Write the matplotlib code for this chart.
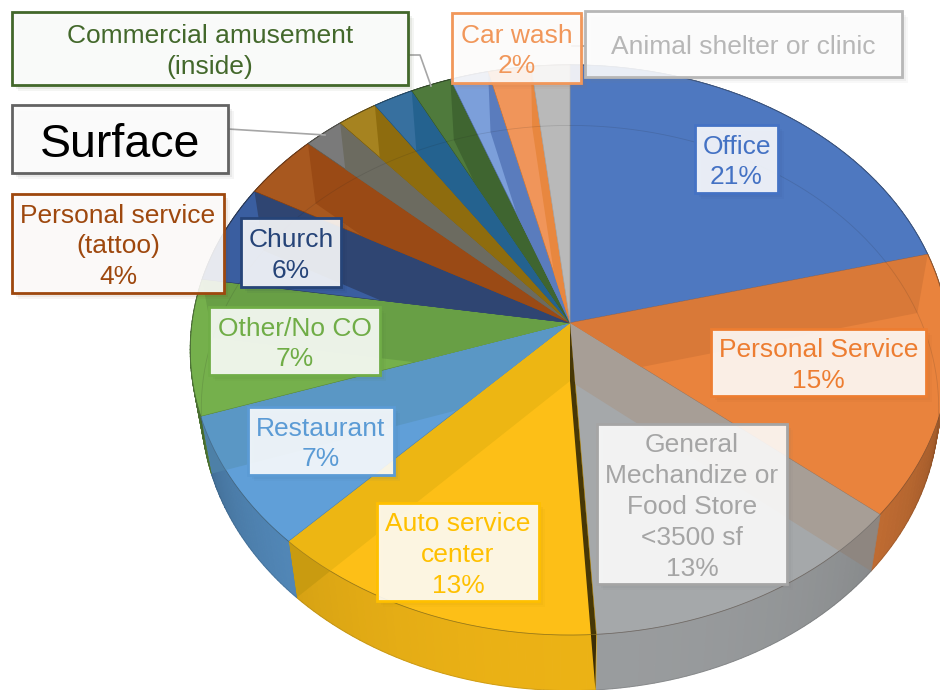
import numpy as np
import matplotlib
matplotlib.use("Agg")
import matplotlib.pyplot as plt
from matplotlib.colors import to_rgb
from matplotlib.patches import Polygon, Rectangle

plt.rcParams['font.family'] = ['Liberation Sans', 'DejaVu Sans']

# Datos (porcentaje de cada sector, sentido horario desde las 12)
sectores = ['Office', 'Personal Service', 'General Mechandize', 'Auto service center',
            'Restaurant', 'Other/No CO', 'Church', 'Personal service (tattoo)',
            'Surface', 'Sector 10', 'Sector 11', 'Commercial amusement',
            'Sector 13', 'Car wash', 'Animal shelter or clinic']
valores = [21.0, 15.0, 13.0, 13.2, 7.6, 7.7, 5.6, 3.7, 1.9, 1.9, 1.9, 1.9, 1.8, 2.0, 1.8]

colores = ['#4E78C0', '#E9833D', '#A5A8AA', '#FDBF17', '#609FD8', '#75B04C', '#3A5EA0', '#A8581F',
           '#7A7A7A', '#A68320', '#37709F', '#4F7A3C', '#7C9FDA', '#F0955A', '#B9B9B9']
bandas = ['#4E78C0', '#D97938', '#A79E96', '#EDB613', '#5A97C5', '#689F45', '#2F4572', '#9A4A15',
          '#6C6B60', '#8E6C0E', '#24628F', '#3F6530', '#5A7CBD', '#E8873F', '#B9B9B9']

# Etiquetas: texto, color, caja (x0, y0, x1, y1) y tamaño de letra
etiquetas = [
    ('Commercial amusement\n(inside)', '#43682B', (12, 12, 408, 85), 19.0),
    ('Surface', '#636363', (12, 105, 228, 173), 33.5),
    ('Personal service\n(tattoo)\n4%', '#9E480E', (12, 194, 224, 293), 19.0),
    ('Church\n6%', '#264478', (241, 218, 341, 287), 19.0),
    ('Car wash\n2%', '#F1975A', (452, 13, 581, 83), 19.0),
    ('Animal shelter or clinic', '#B7B7B7', (585, 11, 902, 77), 19.0),
    ('Office\n21%', '#4472C4', (695, 125, 778, 193), 19.0),
    ('Personal Service\n15%', '#ED7D31', (711, 329, 926, 396), 19.0),
    ('General\nMechandize or\nFood Store\n<3500 sf\n13%', '#A5A5A5', (597, 424, 787, 584), 19.0),
    ('Auto service\ncenter\n13%', '#FFC000', (377, 503, 539, 601), 19.0),
    ('Restaurant\n7%', '#5B9BD5', (248, 407, 394, 475), 19.0),
    ('Other/No CO\n7%', '#70AD47', (209, 307, 380, 375), 19.0),
]
lineas = [([408, 420, 431], [55, 55, 86]), ([228, 325], [129, 135]), ([572, 585], [46, 46])]

# Parametros de la perspectiva del disco
cx, cy = 570, 323
A, B, k = 378, 282.5, 0.0947


def arriba(t):
    x, y = np.sin(t), np.cos(t)
    d = 1 + k * y
    return cx + A * x / d, cy - B * y / d


def abajo(t):
    x, y = arriba(t)
    return cx + 0.971 * (x - cx), y + 58 + 2.5 * np.cos(t)


def oscurecer(color, f):
    return tuple(min(1, c * f) for c in to_rgb(color))


fig = plt.figure(figsize=(9.4, 6.9), dpi=100)
ax = fig.add_axes([0, 0, 1, 1])
ax.set_xlim(0, 940)
ax.set_ylim(690, 0)
ax.axis('off')

acumulado = np.cumsum([0] + valores) / sum(valores) * 2 * np.pi

# Pared exterior, con un sombreado segun el angulo
for i in range(len(valores)):
    t = np.linspace(acumulado[i], acumulado[i + 1], 40)
    for a, b in zip(t[:-1], t[1:]):
        f = 0.93 * (0.5 + 0.5 * max(0, -np.cos((a + b) / 2)) ** 0.6)
        c = oscurecer(colores[i], f)
        xa, ya = arriba(a)
        xb, yb = arriba(b)
        xc, yc = abajo(b)
        xd, yd = abajo(a)
        ax.add_patch(Polygon([(xa, ya), (xb, yb), (xc, yc), (xd, yd)], facecolor=c, edgecolor=c, lw=0.8, zorder=1))

# Cara superior y paredes radiales vistas a traves de ella
for i in range(len(valores)):
    t = np.linspace(acumulado[i], acumulado[i + 1], 60)
    xs, ys = arriba(t)
    cara = Polygon(list(zip(xs, ys)) + [(cx, cy)], facecolor=colores[i],
                   edgecolor=oscurecer(bandas[i], 0.85), lw=0.6, zorder=2)
    ax.add_patch(cara)
    xi, yi = abajo(t)
    lado = Polygon(list(zip(xs, ys)) + list(zip(xi[::-1], yi[::-1])), facecolor='none', edgecolor='none', zorder=2)
    ax.add_patch(lado)
    for borde in (acumulado[i], acumulado[i + 1]):
        x1, y1 = arriba(borde)
        x2, y2 = abajo(borde)
        muro = [(cx, cy), (x1, y1), (x2, y2), (cx, cy + 58)]
        # la pared casi de canto se ve muy oscura
        color_muro = bandas[i]
        if np.cos(borde) < -0.99:
            color_muro = oscurecer(bandas[i], 0.3)
        p = Polygon(muro, facecolor=color_muro, edgecolor='none', zorder=3)
        ax.add_patch(p)
        p.set_clip_path(cara)
        if np.cos(borde) < 0:
            p2 = Polygon(muro, facecolor=oscurecer(color_muro, 0.85), edgecolor='none', zorder=1.5)
            ax.add_patch(p2)
            p2.set_clip_path(lado)

# Contornos de los dos discos
t = np.linspace(0, 2 * np.pi, 400)
xs, ys = arriba(t)
ax.plot(xs, ys, color='#303030', lw=0.5, alpha=0.35, zorder=4)
xs, ys = abajo(t)
ax.plot(xs, ys, color='#202020', lw=0.6, alpha=0.14, zorder=4)

for lx, ly in lineas:
    ax.plot(lx, ly, color='#A6A6A6', lw=1.2, zorder=5)

for texto, color, caja, tam in etiquetas:
    x0, y0, x1, y1 = caja
    # sombra difusa de la caja
    for d, al in ((7, 0.05), (5, 0.07), (3, 0.09)):
        ax.add_patch(Rectangle((x0 + d - 1, y0 + d - 1), x1 - x0, y1 - y0, facecolor=oscurecer(color, 0.7),
                               alpha=al, edgecolor='none', zorder=6))
    ax.add_patch(Rectangle((x0, y0), x1 - x0, y1 - y0, facecolor=(1, 1, 1, 0.88), edgecolor=color,
                           lw=2.0, zorder=7))
    col = 'black' if texto == 'Surface' else color
    sube = 6 if texto == 'Surface' else 3
    ax.text((x0 + x1) / 2, (y0 + y1) / 2 + sube, texto, color=col, fontsize=tam, ha='center', va='center',
            linespacing=1.36, zorder=8)

fig.savefig('out.png', dpi=100)
